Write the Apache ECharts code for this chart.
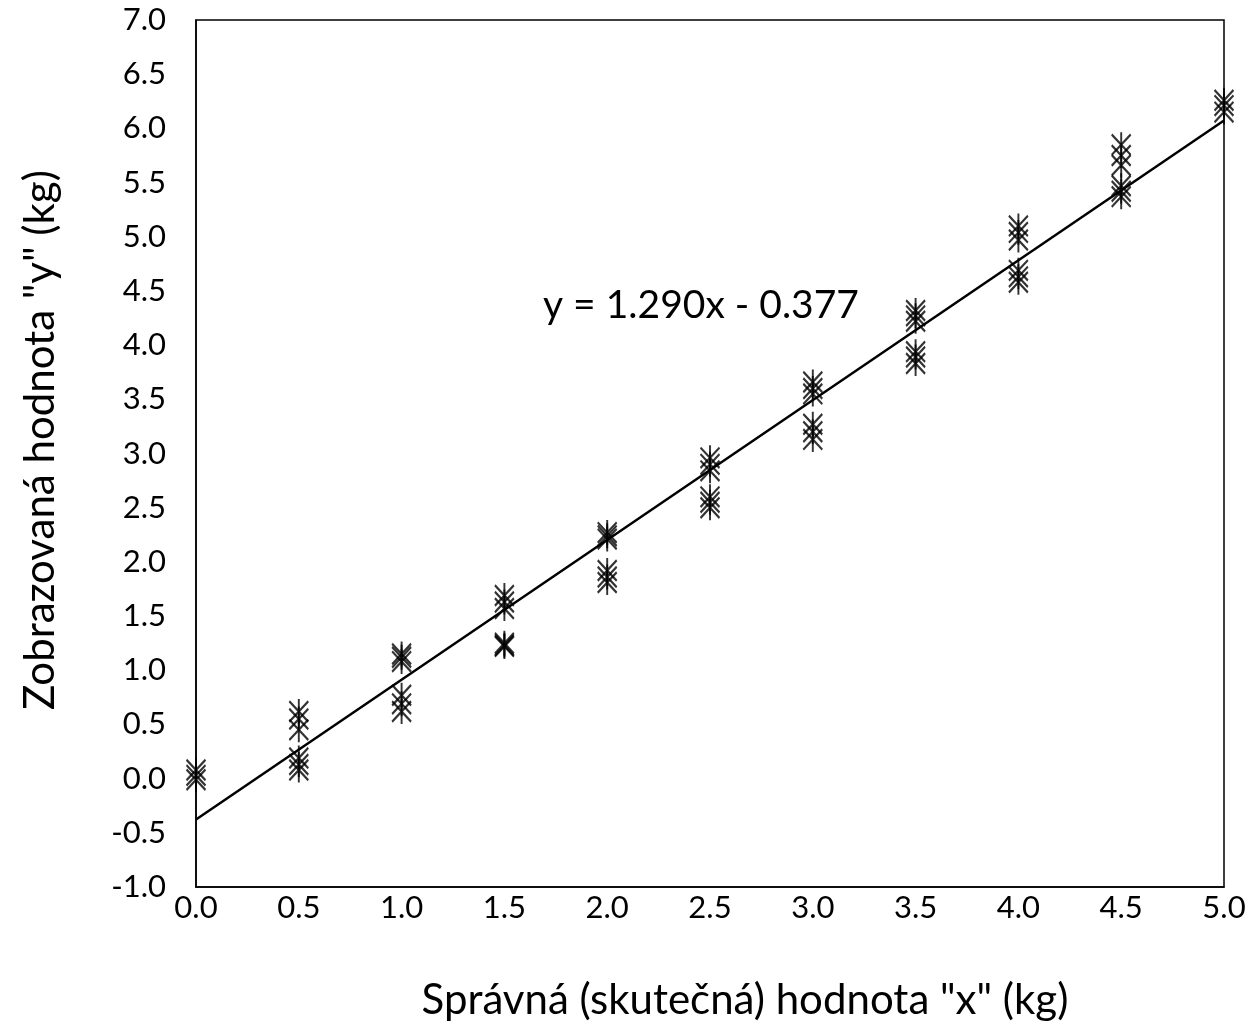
<!DOCTYPE html>
<html><head><meta charset="utf-8">
<script src="https://cdn.jsdelivr.net/npm/echarts@6/dist/echarts.min.js"></script>
<style>html,body{margin:0;padding:0;background:#fff}#c{width:1256px;height:1028px}</style>
</head><body><div id="c"></div>
<script>
const xValues = [0.0, 0.5, 0.5, 1.0, 1.0, 1.5, 1.5, 2.0, 2.0, 2.5, 2.5, 3.0, 3.0, 3.5, 3.5, 4.0, 4.0, 4.5, 4.5, 5.0];
const yGroups = [
  [-0.01, 0.03, 0.08],
  [0.45, 0.55, 0.62],
  [0.08, 0.13, 0.19],
  [1.08, 1.12, 1.15],
  [0.62, 0.69, 0.77],
  [1.57, 1.63, 1.69],
  [1.22, 1.23, 1.25],
  [2.21, 2.24, 2.27],
  [1.81, 1.86, 1.92],
  [2.84, 2.90, 2.96],
  [2.50, 2.55, 2.60],
  [3.55, 3.60, 3.66],
  [3.13, 3.20, 3.27],
  [4.22, 4.27, 4.32],
  [3.83, 3.89, 3.94],
  [4.97, 5.04, 5.10],
  [4.58, 4.63, 4.69],
  [5.66, 5.75, 5.85],
  [5.37, 5.42, 5.47],
  [6.15, 6.21, 6.26]
];
const trendSlope = 1.290;
const trendIntercept = -0.377;
const trendX = [0, 5];
const equationText = 'y = 1.290x - 0.377';
const xTitle = 'Správná (skutečná) hodnota "x" (kg)';
const yTitle = 'Zobrazovaná hodnota "y" (kg)';

const points = [];
xValues.forEach((x, i) => yGroups[i].forEach(y => points.push([x, y])));
const trend = trendX.map(x => [x, trendSlope * x + trendIntercept]);

const FONT = 'Lato, "Open Sans", sans-serif';
const chart = echarts.init(document.getElementById('c'));
chart.setOption({
  animation: false,
  backgroundColor: '#fff',
  grid: {left: 196, right: 32, top: 20, bottom: 141, show: true, borderColor: '#000', borderWidth: 1.5},
  xAxis: {
    type: 'value', min: 0, max: 5, interval: 0.5,
    axisLine: {show: true, onZero: false, lineStyle: {color: '#000', width: 1.5}},
    axisTick: {show: false}, splitLine: {show: false},
    axisLabel: {color: '#000', fontSize: 31, fontFamily: FONT, margin: 5, formatter: v => v.toFixed(1)}
  },
  yAxis: {
    type: 'value', min: -1, max: 7, interval: 0.5,
    axisLine: {show: true, onZero: false, lineStyle: {color: '#000', width: 1.5}},
    axisTick: {show: false}, splitLine: {show: false},
    axisLabel: {color: '#000', fontSize: 31, fontFamily: FONT, margin: 30, formatter: v => v.toFixed(1)}
  },
  series: [
    {
      type: 'scatter', data: points,
      symbol: 'path://M0,2 L18,20 M18,2 L0,20 M9,0 L9,22',
      symbolSize: [19, 25],
      itemStyle: {color: 'none', borderColor: '#000', borderWidth: 2.2}
    },
    {
      type: 'line', data: trend, showSymbol: false, symbol: 'none',
      lineStyle: {color: '#000', width: 2.5}, z: 3
    }
  ],
  graphic: [
    {type: 'text', x: 543, y: 305, style: {text: equationText, font: '39px ' + FONT, fill: '#000', textVerticalAlign: 'middle'}},
    {type: 'text', x: 745, y: 1000, style: {text: xTitle, font: '42px ' + FONT, fill: '#000', textAlign: 'center', textVerticalAlign: 'middle'}},
    {type: 'text', x: 40, y: 440, rotation: Math.PI / 2,
     style: {text: yTitle, font: '42px ' + FONT, fill: '#000', textAlign: 'center', textVerticalAlign: 'middle'}}
  ]
});
</script></body></html>
